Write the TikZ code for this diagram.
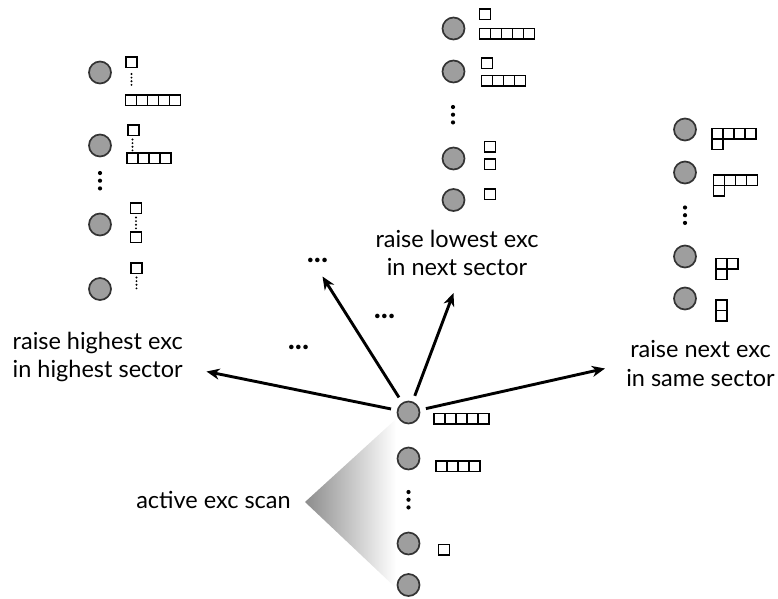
\documentclass[tikz,border=0pt]{standalone}
\usepackage{fontspec}
\setmainfont{Lato}
\usetikzlibrary{arrows.meta}
% one row of n boxes, top left corner at (x,y)
\def\yrow(#1,#2)#3{\foreach \k in {1,...,#3}{\draw[ybox] ({#1+(\k-1)*11},#2) rectangle ++(11,10.5);}}
% small dotted chain between boxes
\def\ychain(#1,#2){\foreach \k in {0,...,3}{\fill (#1,{#2+\k*3.6}) circle (1.05pt);}}
% big vertical dots between states
\def\bigdots(#1,#2){\foreach \k in {0,1,2}{\fill (#1,{#2+\k*7.7}) circle (2.1pt);}}

\tikzset{
  state/.style={circle, draw=black!80, line width=1.7pt, fill=black!38, minimum size=22pt, inner sep=0pt},
  ybox/.style={line width=1.8pt},
  lab/.style={font=\fontsize{23.5}{28.5}\selectfont, inner sep=0pt},
  etc/.style={font=\fontsize{30}{30}\bfseries, inner sep=0pt},
  move/.style={line width=2.9pt, -{Stealth[length=13pt,width=11pt,inset=4pt]}, shorten <=6pt},
}

\begin{document}
\begin{tikzpicture}[x=1pt, y=-1pt]
		%%%%% START %%%%%
		\useasboundingbox (0,0) rectangle (778,598);
		
		% scan wedge
		\shade[left color=black!45, right color=white] (305,502) -- (396,419) -- (396,588) -- cycle;
		
		% left column
		\node[state] (l1) at (100,72.5) {};
		\node[state] (l2) at (100,145.5) {};
		\node[state] (l3) at (100,224.5) {};
		\node[state] (l4) at (100,289) {};
		\bigdots(100,173)
		\draw[ybox] (126,57) rectangle ++(11,10.5);
		\ychain(131.5,74)
		\yrow(125.5,95){5}
		\draw[ybox] (128,125) rectangle ++(11,10.5);
		\ychain(132.5,139.5)
		\yrow(127,153){4}
		\draw[ybox] (130.5,203) rectangle ++(11,10.5);
		\ychain(136,217.5)
		\draw[ybox] (130.5,232) rectangle ++(11,10.5);
		\draw[ybox] (131,263) rectangle ++(11,10.5);
		\ychain(136.5,277.5)
		
		% middle column
		\node[state] (m1) at (453.5,28.5) {};
		\node[state] (m2) at (453.5,71.5) {};
		\node[state] (m3) at (453.5,158.5) {};
		\node[state] (m4) at (453.5,200) {};
		\bigdots(453,107)
		\draw[ybox] (479.5,9) rectangle ++(11,10.5);
		\yrow(479.5,28.5){5}
		\draw[ybox] (481.5,58) rectangle ++(11,10.5);
		\yrow(481.5,75.5){4}
		\draw[ybox] (484.5,141.5) rectangle ++(11,10.5);
		\draw[ybox] (484.5,159) rectangle ++(11,10.5);
		\draw[ybox] (484.5,189) rectangle ++(11,10.5);
		
		% right column
		\node[state] (r1) at (685,129.5) {};
		\node[state] (r2) at (685,172.5) {};
		\node[state] (r3) at (685,256.5) {};
		\node[state] (r4) at (685,298.5) {};
		\bigdots(685,207.5)
		\yrow(712,128.5){4}
		\yrow(712,139){1}
		\yrow(713.5,175){4}
		\yrow(713.5,185.5){1}
		\yrow(716,258.5){2}
		\yrow(716,269){1}
		\yrow(716,300){1}
		\yrow(716,310.5){1}
		
		% bottom column (scan)
		\node[state] (b1) at (408.5,412.5) {};
		\node[state] (b2) at (408.5,458.5) {};
		\node[state] (b3) at (408.5,543.5) {};
		\node[state] (b4) at (408.5,585) {};
		\bigdots(408.5,492)
		\yrow(434,413.5){5}
		\yrow(436,461){4}
		\yrow(438.5,544.5){1}
		
		% labels
		\node[lab, anchor=west, align=left] (hi) at (12.5,357) {raise highest exc\\in highest sector};
		\node[lab, align=center] (lo) at (457,253) {raise lowest exc\\in next sector};
		\node[lab, align=center] (same) at (700.5,363.5) {raise next exc\\in same sector};
		\node[lab, anchor=base] (scan) at (213.5,508.5) {active exc scan};
		\node[etc] (e1) at (317.5,260) {...};
		\node[etc] (e2) at (384.5,316.5) {...};
		\node[etc] (e3) at (298.5,347.5) {...};
		
		% moves out of the first state
		\coordinate (thi) at (206.5,371.5);
		\coordinate (tdots) at (322.5,276.5);
		\coordinate (tlo) at (453.5,293);
		\coordinate (tsame) at (605,368.5);
		\draw[move] (b1) -- (thi);
		\draw[move] (b1) -- (tdots);
		\draw[move] (b1) -- (tlo);
		\draw[move] (b1) -- (tsame);
		%%%%% END %%%%%
\end{tikzpicture}
\end{document}
